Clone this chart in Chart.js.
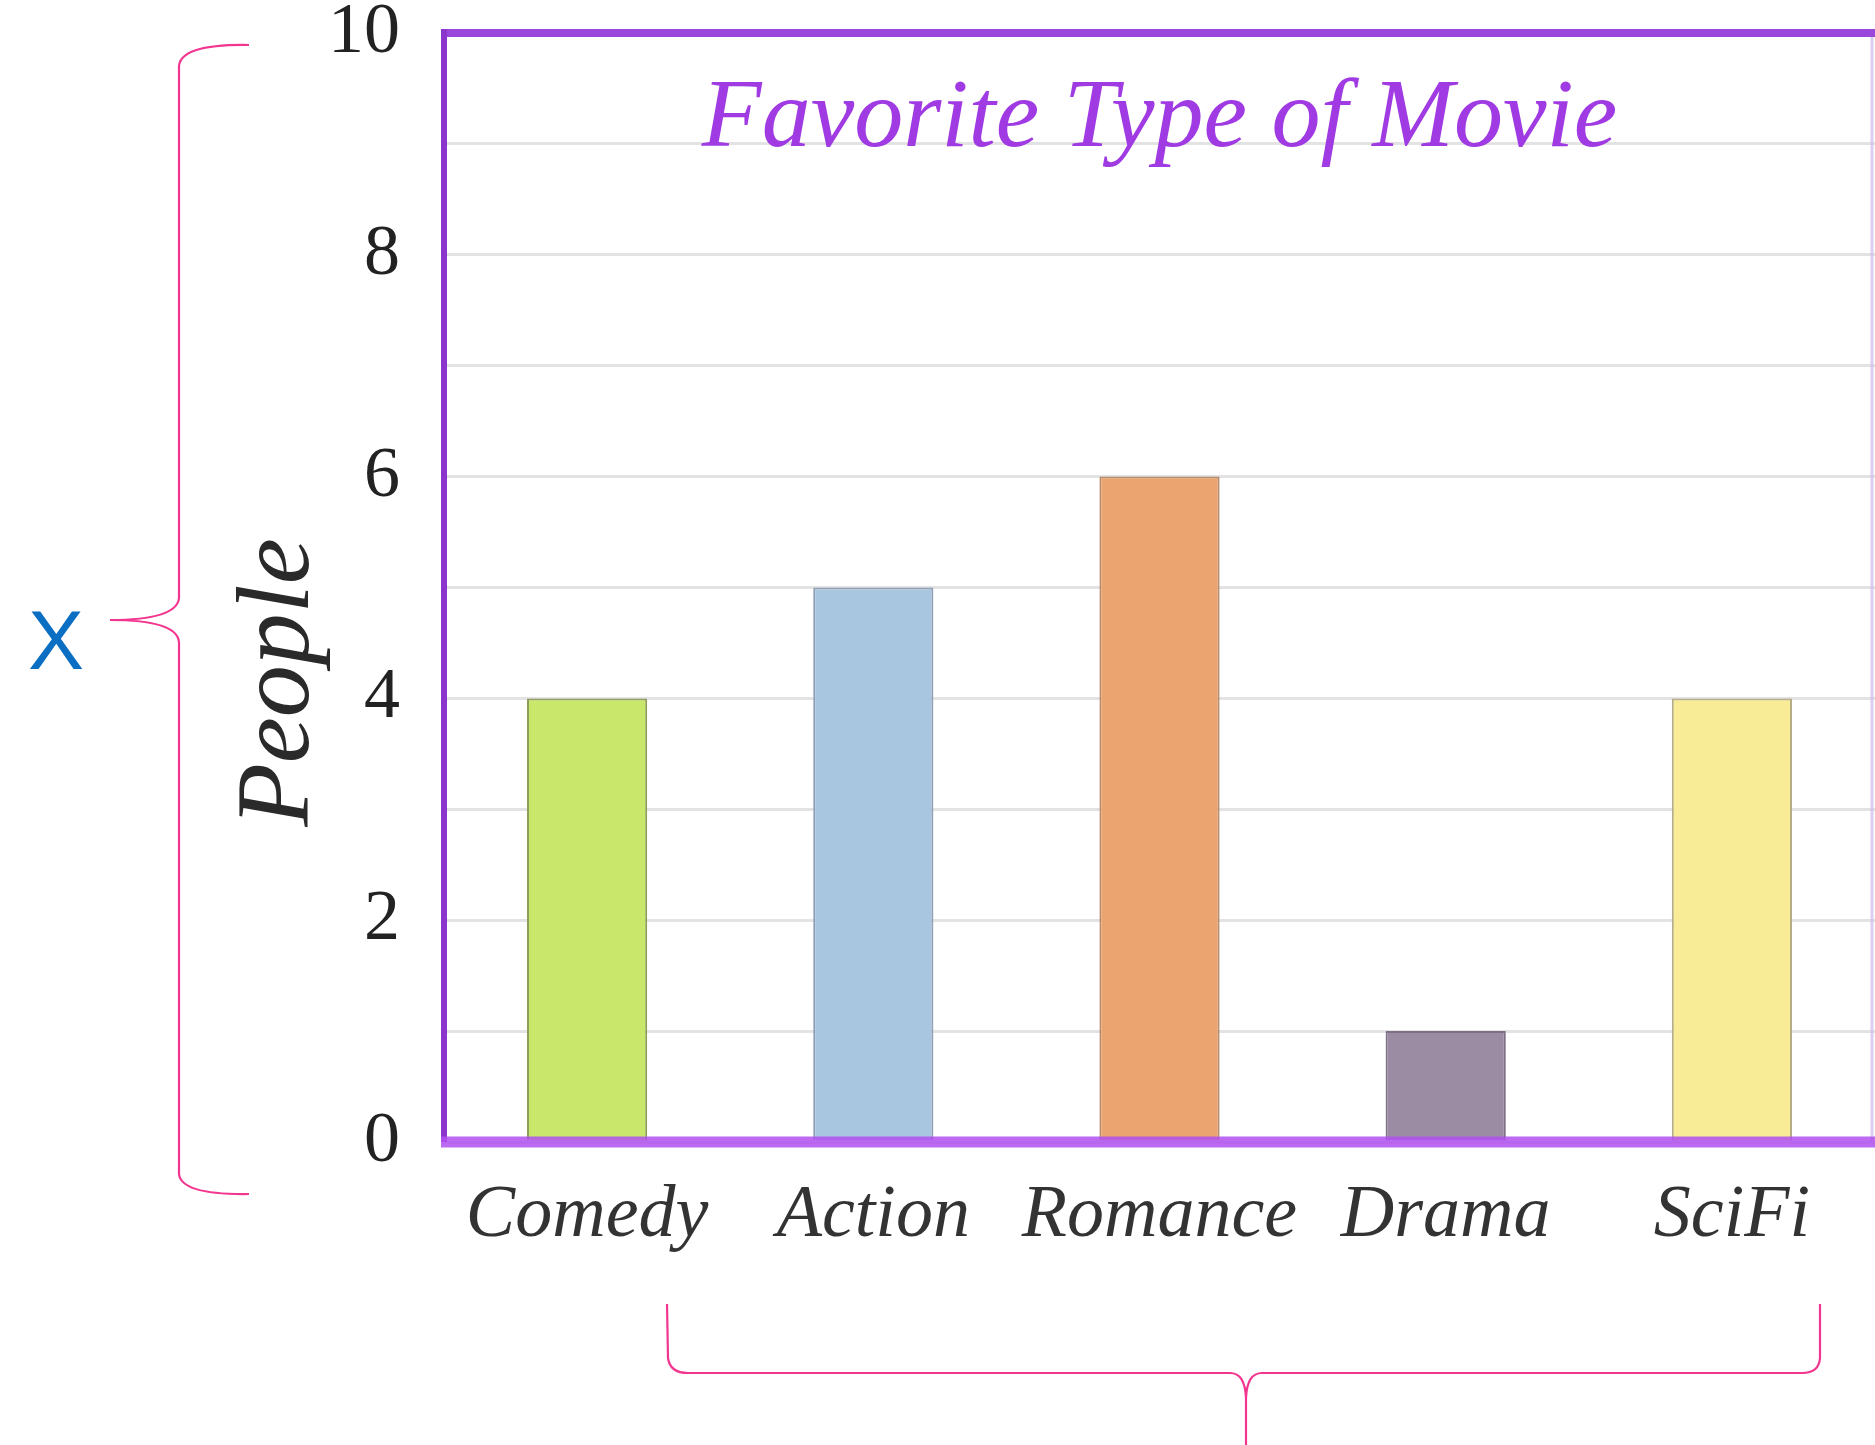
<!DOCTYPE html>
<html><head><meta charset="utf-8">
<script src="https://cdn.jsdelivr.net/npm/chart.js@4"></script>
<style>html,body{margin:0;padding:0;background:#fff;overflow:hidden}canvas{display:block}</style>
</head><body>
<canvas id="c" width="1875" height="1445" style="width:1875px;height:1445px"></canvas>
<script>
const categories = ['Comedy', 'Action', 'Romance', 'Drama', 'SciFi'];
const people = [4, 5, 6, 1, 4];
const barColors = ['#c8e76b', '#a9c6e0', '#eba46f', '#9c8ca3', '#f9ec96'];
const barBorders = ['#8f9d5c', '#8fa0b5', '#b88a6a', '#7d6f86', '#b5ad88'];
const yMin = 0, yMax = 10, yStep = 1;
const chartTitle = 'Favorite Type of Movie';
const yTitle = 'People';
const braceLabel = 'X';

const SERIF = '"Liberation Serif", "DejaVu Serif", serif';

const framePlugin = {
  id: 'frame',
  afterDatasetsDraw(chart) {
    const {ctx, chartArea: {left, top, right, bottom}} = chart;
    ctx.save();
    ctx.strokeStyle = 'rgba(205,185,235,0.7)';
    ctx.lineWidth = 3;
    ctx.beginPath(); ctx.moveTo(right - 3, top); ctx.lineTo(right - 3, bottom); ctx.stroke();
    ctx.strokeStyle = '#9a48dc';
    ctx.lineWidth = 8;
    ctx.beginPath(); ctx.moveTo(left - 3, top); ctx.lineTo(right, top); ctx.stroke();
    ctx.strokeStyle = '#8a36cc';
    ctx.lineWidth = 6;
    ctx.beginPath(); ctx.moveTo(left, top - 4); ctx.lineTo(left, bottom); ctx.stroke();
    ctx.strokeStyle = 'rgba(176,80,240,0.85)';
    ctx.lineWidth = 11;
    ctx.beginPath(); ctx.moveTo(left - 3, bottom); ctx.lineTo(right, bottom); ctx.stroke();
    // title inside plot
    ctx.fillStyle = '#a03ae2';
    ctx.font = 'italic 98px ' + SERIF;
    ctx.textAlign = 'center';
    ctx.textBaseline = 'alphabetic';
    ctx.fillText(chartTitle, (left + right) / 2, top + 113);
    ctx.restore();
  },
  afterDraw(chart) {
    const ctx = chart.ctx;
    const {top, bottom} = chart.chartArea;
    ctx.save();
    // y axis title
    ctx.fillStyle = '#2a2a2a';
    ctx.font = 'italic 104px ' + SERIF;
    ctx.textAlign = 'center';
    ctx.textBaseline = 'middle';
    ctx.translate(281, (top + bottom) / 2 + 95);
    ctx.rotate(-Math.PI / 2);
    ctx.fillText(yTitle, 0, 0);
    ctx.restore();

    ctx.save();
    ctx.strokeStyle = '#f2358f';
    ctx.lineWidth = 2.2;
    // left brace
    ctx.beginPath();
    ctx.moveTo(249, 45);
    ctx.quadraticCurveTo(181, 44, 179, 66);
    ctx.lineTo(179, 598);
    ctx.quadraticCurveTo(177, 620, 110, 620);
    ctx.quadraticCurveTo(177, 620, 179, 642);
    ctx.lineTo(179, 1174);
    ctx.quadraticCurveTo(181, 1195, 249, 1194);
    ctx.stroke();
    // bottom brace
    ctx.beginPath();
    ctx.moveTo(667, 1304);
    ctx.lineTo(668, 1358);
    ctx.quadraticCurveTo(670, 1373, 688, 1373);
    ctx.lineTo(1230, 1373);
    ctx.quadraticCurveTo(1245, 1373, 1246, 1398);
    ctx.lineTo(1246, 1445);
    ctx.moveTo(1246, 1398);
    ctx.quadraticCurveTo(1247, 1373, 1262, 1373);
    ctx.lineTo(1802, 1373);
    ctx.quadraticCurveTo(1819, 1373, 1820, 1358);
    ctx.lineTo(1820, 1304);
    ctx.stroke();
    ctx.fillStyle = '#0a6fc2';
    ctx.font = '84px "Liberation Sans", sans-serif';
    ctx.textAlign = 'center';
    ctx.textBaseline = 'middle';
    ctx.fillText(braceLabel, 56, 646);
    ctx.restore();
  }
};

new Chart(document.getElementById('c'), {
  type: 'bar',
  data: {
    labels: categories,
    datasets: [{
      data: people,
      backgroundColor: barColors,
      borderColor: barBorders,
      borderWidth: 2,
      barPercentage: 0.42,
      categoryPercentage: 1
    }]
  },
  options: {
    responsive: false,
    devicePixelRatio: 1,
    animation: false,
    layout: {padding: {left: 0, top: 33, right: 0, bottom: 0}},
    plugins: {legend: {display: false}, tooltip: {enabled: false}, title: {display: false}},
    scales: {
      x: {
        grid: {display: false, drawTicks: false},
        border: {display: false},
        ticks: {
          color: '#333',
          padding: 30,
          maxRotation: 0,
          font: {family: SERIF, size: 74, style: 'italic'}
        },
        afterFit(scale) { scale.height = 303; scale.paddingLeft = 0; scale.paddingRight = 0; }
      },
      y: {
        min: yMin, max: yMax,
        grid: {color: '#e3e3e3', lineWidth: 3, drawTicks: false},
        border: {display: false},
        ticks: {
          stepSize: yStep,
          color: '#222',
          padding: 44,
          font: {family: SERIF, size: 72},
          callback: v => (v % 2 === 0 ? String(v) : '')
        },
        title: {display: false},
        afterFit(scale) { scale.width = 444; scale.paddingTop = 0; scale.paddingBottom = 0; }
      }
    }
  },
  plugins: [framePlugin]
});
</script>
</body></html>
